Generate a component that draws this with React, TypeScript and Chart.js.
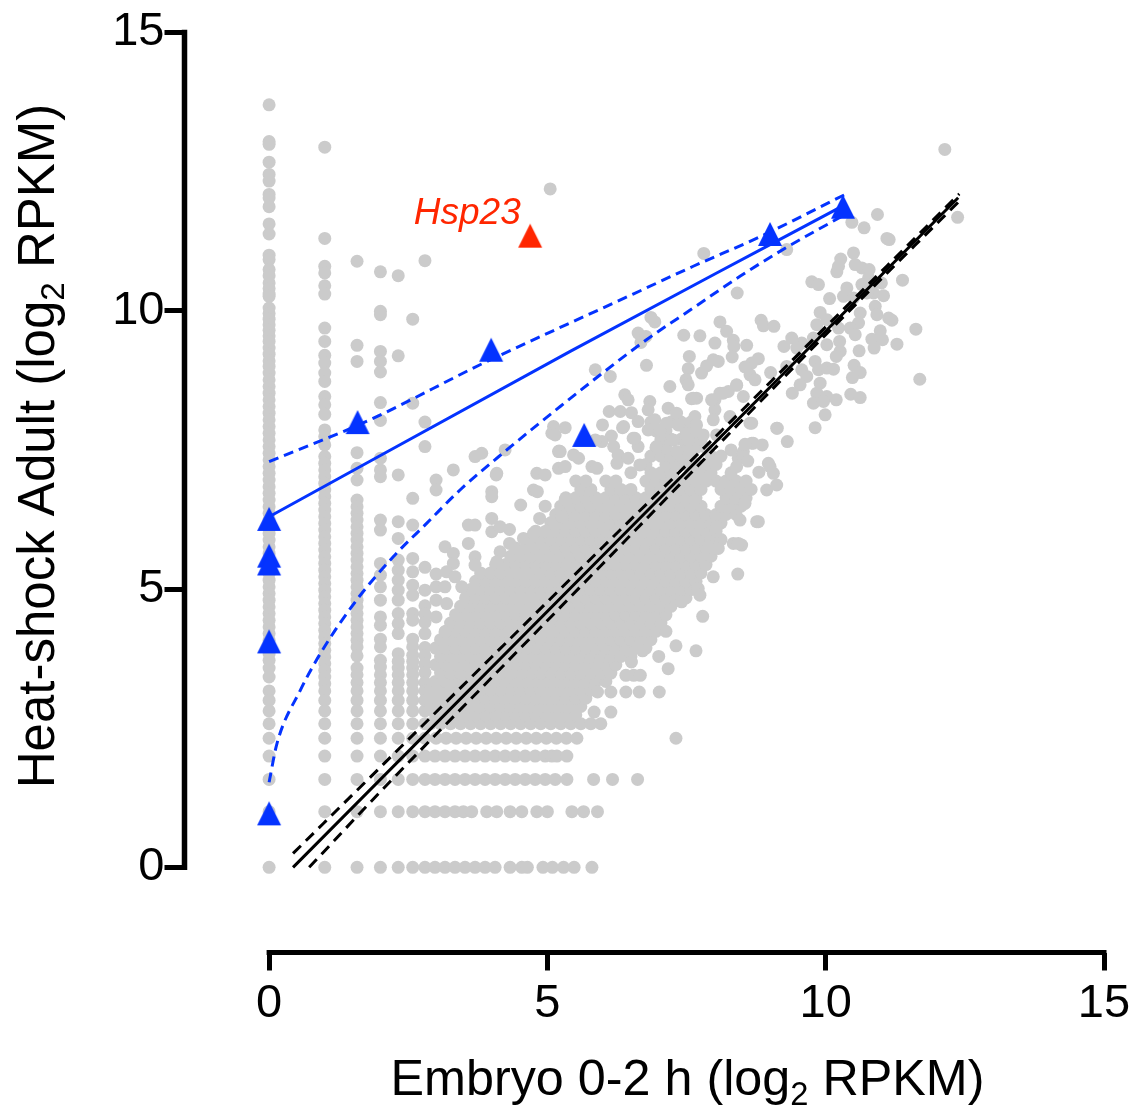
import React, { useEffect, useRef } from "react";
import { Chart, registerables } from "chart.js";

Chart.register(...registerables);

const xTicks = [0, 5, 10, 15];
const yTicks = [0, 5, 10, 15];
const xAxisTitle = ["Embryo 0-2 h (log", "2", " RPKM)"];
const yAxisTitle = ["Heat-shock Adult (log", "2", " RPKM)"];
const geneLabel = "Hsp23";

const col0 = [13.7, 13.04, 12.99, 12.67, 12.45, 12.33, 12.09, 12.03, 11.87, 11.56, 11.38, 11.0, 10.92, 10.74, 10.63, 10.5, 10.4, 10.3, 10.26, 10.05, 9.95, 9.85, 9.75, 9.65, 9.55, 9.45, 9.33, 9.22, 9.1, 9.0, 8.88, 8.76, 8.64, 8.52, 8.4, 8.28, 8.16, 8.04, 7.92, 7.8, 7.68, 7.56, 7.44, 7.32, 7.2, 7.08, 6.96, 6.84, 6.72, 6.6, 6.48, 6.36, 6.24, 6.12, 6.0, 5.88, 5.76, 5.64, 5.52, 5.4, 5.28, 5.16, 5.04, 4.92, 4.8, 4.68, 4.56, 4.44, 4.32, 4.2, 4.08, 3.96, 3.84, 3.72, 3.58, 3.42, 3.17, 3.0, 2.81, 2.58, 2.32, 2.0, 1.58, 1.0, 0];
const col1 = [12.94, 11.3, 10.8, 10.68, 10.45, 10.3, 9.69, 9.45, 9.2, 9.06, 8.88, 8.73, 8.46, 8.31, 8.14, 7.86, 7.74, 7.59, 7.38, 7.26, 7.14, 7.02, 6.9, 6.78, 6.66, 6.54, 6.42, 6.3, 6.18, 6.06, 5.94, 5.82, 5.7, 5.58, 5.46, 5.34, 5.22, 5.1, 4.98, 4.86, 4.74, 4.62, 4.5, 4.38, 4.26, 4.14, 4.02, 3.9, 3.78, 3.66, 3.54, 3.42, 3.3, 3.17, 3.0, 2.81, 2.58, 2.32, 2.0, 1.58, 1.0, 0];
const col158 = [10.89, 9.38, 9.09, 7.45, 7.17, 6.96, 6.6, 6.48, 6.36, 6.24, 6.12, 6.0, 5.88, 5.76, 5.64, 5.52, 5.4, 5.28, 5.16, 5.04, 4.92, 4.8, 4.68, 4.56, 4.44, 4.32, 4.2, 4.08, 3.96, 3.8, 3.58, 3.46, 3.32, 3.17, 3.0, 2.81, 2.58, 2.32, 2.0, 1.58, 1.0, 0];
const col2 = [10.7, 9.99, 9.93, 9.27, 9.09, 8.9, 8.35, 8.03, 7.35, 7.14, 7.02, 6.24, 6.06, 5.46, 5.25, 5.04, 4.8, 4.5, 4.35, 4.1, 3.96, 3.72, 3.6, 3.46, 3.32, 3.17, 3.0, 2.81, 2.58, 2.32, 2.0, 1.58, 1.0, 0];
const col232 = [10.63, 9.19, 7.05, 6.21, 5.91, 5.52, 5.34, 5.16, 4.98, 4.8, 4.56, 4.38, 4.2, 3.84, 3.7, 3.58, 3.46, 3.32, 3.17, 3.0, 2.81, 2.58, 2.32, 2.0, 1.58, 1.0, 0];
const col258 = [9.85, 8.34, 6.63, 6.15, 5.55, 5.31, 5.07, 4.89, 4.56, 4.44, 4.1, 3.96, 3.81, 3.7, 3.58, 3.46, 3.32, 3.17, 3.0, 2.81, 2.58, 2.32, 2.0, 1.58, 1.0, 0];
const col28 = [10.9, 8.0, 7.56, 5.39, 4.98, 4.7, 4.55, 4.4, 4.2, 3.95, 3.8, 3.65, 3.5, 3.32, 3.17, 3.0, 2.81, 2.58, 2.32, 2.0, 1.58, 1.0, 0];

const row0 = [2.98, 3.16, 3.34, 3.52, 3.7, 3.88, 4.06, 4.33, 4.54, 4.64, 4.92, 5.09, 5.29, 5.48, 5.8];
const row1 = [2.98, 3.16, 3.34, 3.49, 3.64, 3.91, 4.09, 4.33, 4.54, 4.81, 5.0, 5.44, 5.65, 5.9];
const row158 = [2.98, 3.16, 3.34, 3.52, 3.7, 3.88, 4.06, 4.24, 4.42, 4.6, 4.78, 4.96, 5.14, 5.35, 5.83, 6.17, 6.62];
const row2 = [2.98, 3.16, 3.34, 3.52, 3.7, 3.88, 4.06, 4.24, 4.42, 4.6, 4.78, 4.96, 5.08, 5.17, 5.35];
const row232 = [3.0, 3.18, 3.36, 3.54, 3.72, 3.9, 4.08, 4.26, 4.44, 4.62, 4.8, 4.98, 5.16, 5.34, 5.53, 7.31];

const blobY = [2.58, 2.74, 2.89, 3.04, 3.19, 3.34, 3.49, 3.64, 3.79, 3.94, 4.09, 4.24, 4.39, 4.54, 4.69, 4.84, 4.99, 5.14, 5.29, 5.44, 5.59, 5.74, 5.89, 6.04, 6.19, 6.34, 6.49, 6.64, 6.79, 6.94, 7.09, 7.24, 7.39, 7.54, 7.69, 7.84, 8.0];
const blobX = [
  [2.9, 3.08, 3.26, 3.44, 3.62, 3.8, 3.98, 4.16, 4.34, 4.52, 4.7, 4.88, 5.06, 5.24, 5.42, 5.6, 5.78, 5.96],
  [2.99, 3.17, 3.35, 3.53, 3.71, 3.89, 4.07, 4.25, 4.43, 4.61, 4.79, 4.97, 5.15, 5.33, 5.51],
  [2.9, 3.08, 3.26, 3.44, 3.62, 3.8, 3.98, 4.16, 4.34, 4.52, 4.7, 4.88, 5.06, 5.24, 5.42, 5.6],
  [2.99, 3.17, 3.35, 3.53, 3.71, 3.89, 4.07, 4.25, 4.43, 4.61, 4.79, 4.97, 5.15, 5.33, 5.51, 5.69],
  [2.9, 3.08, 3.26, 3.44, 3.62, 3.8, 3.98, 4.16, 4.34, 4.52, 4.7, 4.88, 5.06, 5.24, 5.42, 5.6, 5.78],
  [2.99, 3.17, 3.35, 3.53, 3.71, 3.89, 4.07, 4.25, 4.43, 4.61, 4.79, 4.97, 5.15, 5.33, 5.51, 5.69, 5.87, 6.05],
  [3.08, 3.26, 3.44, 3.62, 3.8, 3.98, 4.16, 4.34, 4.52, 4.7, 4.88, 5.06, 5.24, 5.42, 5.6, 5.78, 5.96, 6.14],
  [2.99, 3.17, 3.35, 3.53, 3.71, 3.89, 4.07, 4.25, 4.43, 4.61, 4.79, 4.97, 5.15, 5.33, 5.51, 5.69, 5.87, 6.05, 6.23],
  [3.08, 3.26, 3.44, 3.62, 3.8, 3.98, 4.16, 4.34, 4.52, 4.7, 4.88, 5.06, 5.24, 5.42, 5.6, 5.78, 5.96, 6.14, 6.32, 6.5],
  [2.99, 3.17, 3.35, 3.53, 3.71, 3.89, 4.07, 4.25, 4.43, 4.61, 4.79, 4.97, 5.15, 5.33, 5.51, 5.69, 5.87, 6.05, 6.23, 6.41, 6.59, 6.77],
  [3.08, 3.26, 3.44, 3.62, 3.8, 3.98, 4.16, 4.34, 4.52, 4.7, 4.88, 5.06, 5.24, 5.42, 5.6, 5.78, 5.96, 6.14, 6.32, 6.5, 6.68, 6.86],
  [3.17, 3.35, 3.53, 3.71, 3.89, 4.07, 4.25, 4.43, 4.61, 4.79, 4.97, 5.15, 5.33, 5.51, 5.69, 5.87, 6.05, 6.23, 6.41, 6.59, 6.77, 6.95, 7.13],
  [3.26, 3.44, 3.62, 3.8, 3.98, 4.16, 4.34, 4.52, 4.7, 4.88, 5.06, 5.24, 5.42, 5.6, 5.78, 5.96, 6.14, 6.32, 6.5, 6.68, 6.86, 7.04],
  [3.35, 3.53, 3.71, 3.89, 4.07, 4.25, 4.43, 4.61, 4.79, 4.97, 5.15, 5.33, 5.51, 5.69, 5.87, 6.05, 6.23, 6.41, 6.59, 6.77, 6.95, 7.13],
  [3.44, 3.62, 3.8, 3.98, 4.16, 4.34, 4.52, 4.7, 4.88, 5.06, 5.24, 5.42, 5.6, 5.78, 5.96, 6.14, 6.32, 6.5, 6.68, 6.86, 7.04, 7.22],
  [3.53, 3.71, 3.89, 4.07, 4.25, 4.43, 4.61, 4.79, 4.97, 5.15, 5.33, 5.51, 5.69, 5.87, 6.05, 6.23, 6.41, 6.59, 6.77, 6.95, 7.13, 7.31, 7.49],
  [3.62, 3.8, 3.98, 4.16, 4.34, 4.52, 4.7, 4.88, 5.06, 5.24, 5.42, 5.6, 5.78, 5.96, 6.14, 6.32, 6.5, 6.68, 6.86, 7.04, 7.22, 7.4, 7.58],
  [3.71, 3.89, 4.07, 4.25, 4.43, 4.61, 4.79, 4.97, 5.15, 5.33, 5.51, 5.69, 5.87, 6.05, 6.23, 6.41, 6.59, 6.77, 6.95, 7.13, 7.31, 7.49, 7.67],
  [3.8, 3.98, 4.16, 4.34, 4.52, 4.7, 4.88, 5.06, 5.24, 5.42, 5.6, 5.78, 5.96, 6.14, 6.32, 6.5, 6.68, 6.86, 7.04, 7.22, 7.4, 7.58, 7.76],
  [4.07, 4.25, 4.43, 4.61, 4.79, 4.97, 5.15, 5.33, 5.51, 5.69, 5.87, 6.05, 6.23, 6.41, 6.59, 6.77, 6.95, 7.13, 7.31, 7.49, 7.67, 7.85],
  [4.34, 4.52, 4.7, 4.88, 5.06, 5.24, 5.42, 5.6, 5.78, 5.96, 6.14, 6.32, 6.5, 6.68, 6.86, 7.04, 7.22, 7.4, 7.58, 7.76, 7.94],
  [4.43, 4.61, 4.79, 4.97, 5.15, 5.33, 5.51, 5.69, 5.87, 6.05, 6.23, 6.41, 6.59, 6.77, 6.95, 7.13, 7.31, 7.49, 7.67, 7.85, 8.03],
  [4.7, 4.88, 5.06, 5.24, 5.42, 5.6, 5.78, 5.96, 6.14, 6.32, 6.5, 6.68, 6.86, 7.04, 7.22, 7.4, 7.58, 7.76, 7.94, 8.12],
  [4.79, 4.97, 5.15, 5.33, 5.51, 5.69, 5.87, 6.05, 6.23, 6.41, 6.59, 6.77, 6.95, 7.13, 7.31, 7.49, 7.67, 7.85, 8.03],
  [5.06, 5.24, 5.42, 5.6, 5.78, 5.96, 6.14, 6.32, 6.5, 6.68, 6.86, 7.04, 7.22, 7.4, 7.58, 7.76, 7.94, 8.12],
  [5.15, 5.33, 5.51, 5.69, 5.87, 6.05, 6.23, 6.41, 6.59, 6.77, 6.95, 7.13, 7.31, 7.49, 7.67, 7.85, 8.03, 8.21, 8.39],
  [5.24, 5.42, 5.6, 5.78, 5.96, 6.14, 6.32, 6.5, 6.68, 6.86, 7.04, 7.22, 7.4, 7.58, 7.76, 8.12, 8.3, 8.48],
  [5.33, 5.51, 5.69, 5.87, 6.05, 6.23, 6.41, 6.59, 6.77, 6.95, 7.13, 7.31, 7.49, 7.67, 8.21, 8.39, 8.57],
  [5.6, 5.78, 6.14, 6.32, 6.5, 6.86, 7.04, 7.22, 7.4, 7.58, 7.76, 8.12, 8.3, 8.48, 8.66],
  [5.51, 5.69, 6.05, 6.23, 6.77, 6.95, 7.13, 7.31, 7.49, 7.67, 7.85, 8.03, 8.21, 8.39, 8.57],
  [6.5, 6.86, 7.04, 7.22, 7.58, 7.76, 7.94, 8.3],
  [6.77, 7.13, 7.31, 7.49, 7.67, 7.85, 8.03],
  [6.86, 7.04, 7.22, 7.4, 7.58, 7.94, 8.12],
  [6.95, 7.13, 7.49, 7.67, 7.85],
  [7.04, 7.22, 7.4, 7.58, 7.76],
  [6.95, 7.13, 7.49, 7.67],
  [6.86, 7.22, 7.4, 7.58],
];

const scatterPoints: [number, number][] = [
  [12.14, 12.9], [12.37, 11.68], [10.93, 11.73], [10.47, 11.59], [10.69, 11.49], [11.14, 11.28], [11.1, 11.3], [9.3, 11.1], [7.81, 11.03], [10.5, 11.04], [10.27, 10.93], [10.2, 10.7], [10.23, 10.8], [10.53, 10.83], [10.65, 10.77], [10.78, 10.74], [10.77, 10.59], [11.38, 10.55], [9.75, 10.52], [9.87, 10.47], [8.41, 10.32], [10.38, 10.41], [10.32, 10.26], [10.5, 10.23], [10.65, 10.47], [10.83, 10.47], [11.0, 10.5], [10.07, 10.22], [10.86, 10.32], [11.04, 10.27], [10.74, 10.32], [10.89, 10.08], [10.92, 9.93], [9.9, 9.97], [10.02, 9.84], [9.84, 9.75], [10.62, 9.96], [10.59, 9.78], [10.44, 9.69], [10.53, 9.57], [10.23, 9.69], [11.13, 9.87], [11.19, 9.83], [11.62, 9.67], [10.98, 9.64], [10.83, 9.49], [11.02, 9.48], [10.87, 9.33], [11.28, 9.4],
  [6.86, 9.88], [6.93, 9.8], [6.63, 9.6], [6.77, 9.54], [6.68, 9.43], [8.1, 9.8], [8.22, 9.63], [8.84, 9.83], [8.88, 9.73], [9.07, 9.72], [7.45, 9.56], [7.74, 9.55], [8.01, 9.42], [8.34, 9.47], [8.35, 9.36], [8.58, 9.38], [9.39, 9.51], [9.25, 9.36], [9.57, 9.42], [9.48, 9.33], [9.78, 9.51], [10.02, 9.39], [10.25, 9.45], [10.26, 9.27], [10.19, 9.18], [10.6, 9.28], [7.55, 9.18], [8.32, 9.17], [6.78, 9.02], [7.98, 9.12], [8.07, 9.09], [7.86, 9.01], [7.77, 8.88], [7.53, 8.96], [7.49, 8.76], [7.53, 8.67], [8.79, 9.14], [8.67, 9.06], [8.55, 8.99], [8.64, 8.85], [8.73, 8.76], [9.01, 8.89], [9.3, 9.0], [9.57, 8.94], [9.81, 9.09], [9.87, 8.94], [10.02, 8.97], [10.14, 8.95], [9.66, 8.82], [9.54, 8.67], [9.9, 8.7], [10.51, 9.02], [10.62, 8.89], [10.48, 8.8], [11.69, 8.77], [5.86, 8.94], [6.13, 8.82], [7.2, 8.64],
  [8.4, 8.66], [8.25, 8.55], [8.1, 8.52], [8.01, 8.4], [7.68, 8.43], [7.59, 8.42], [8.52, 8.46], [9.4, 8.52], [9.84, 8.52], [10.02, 8.46], [9.78, 8.34], [9.96, 8.37], [10.19, 8.4], [10.45, 8.5], [10.62, 8.44], [9.99, 8.13], [9.81, 7.9], [6.39, 8.49], [6.45, 8.4], [6.84, 8.37], [6.81, 8.22], [6.11, 8.19], [6.31, 8.19], [6.51, 8.17], [7.17, 8.25], [7.32, 8.16], [7.35, 7.95], [7.65, 8.1], [7.68, 7.95], [8.01, 8.22], [7.98, 8.04], [8.28, 8.1], [5.99, 7.95], [6.35, 7.9], [6.63, 8.01], [6.93, 8.04], [7.14, 7.98], [6.81, 7.86], [7.02, 7.86], [8.67, 7.98], [9.13, 7.89], [9.31, 7.65], [5.32, 7.9], [6.15, 7.75], [5.98, 7.65], [6.54, 7.71], [6.63, 7.56], [6.19, 7.56], [7.26, 7.68], [7.53, 7.68], [7.8, 7.77], [8.04, 7.77], [8.67, 7.62], [8.86, 7.59], [8.52, 7.47], [8.43, 7.35], [8.97, 7.26], [6.96, 7.56], [7.32, 7.47], [5.47, 7.41], [5.56, 7.35], [6.27, 7.41], [6.45, 7.35], [6.25, 7.26], [5.8, 7.2], [6.66, 7.23], [5.23, 7.47],
  [4.24, 7.5], [3.7, 7.38], [3.82, 7.44], [3.31, 7.14], [5.11, 7.92], [5.08, 7.8], [5.2, 7.47], [5.2, 7.17], [5.32, 7.2], [4.81, 7.08], [4.96, 7.05], [4.09, 7.08], [5.05, 12.19],
  [3.0, 6.96], [3.0, 6.78], [4.08, 7.05], [4.0, 6.75], [4.0, 6.66], [4.75, 6.78], [4.82, 6.75], [4.52, 6.51], [4.96, 6.49], [5.32, 6.61], [3.58, 6.15], [3.7, 6.15], [4.0, 6.27], [4.0, 6.03], [4.15, 6.12], [4.32, 6.07], [3.58, 5.82], [3.16, 5.76], [4.32, 5.82], [4.57, 5.91], [4.75, 6.0], [4.86, 6.27], [5.11, 6.21], [5.26, 6.3], [4.15, 5.67], [3.31, 5.64], [3.31, 5.46], [3.7, 5.58], [3.7, 5.43], [4.09, 5.49], [3.0, 5.27], [3.19, 5.31], [3.34, 5.22], [3.46, 5.04], [3.0, 5.04], [3.16, 5.04], [3.0, 4.8], [3.19, 4.74], [3.0, 4.5], [3.16, 4.23],
  [8.42, 5.27], [7.79, 4.51], [7.31, 3.98], [7.67, 3.89], [7.0, 3.79], [6.71, 3.89], [7.17, 3.57], [6.51, 3.69], [6.41, 3.45], [6.55, 3.45], [6.67, 3.45], [5.9, 3.15], [6.14, 3.15], [6.41, 3.15], [6.65, 3.15], [7.01, 3.15], [5.84, 2.79], [6.14, 2.79], [8.76, 6.21], [7.98, 5.22], [7.71, 5.01], [7.74, 4.89], [7.41, 4.77], [7.92, 5.76], [8.07, 5.73], [8.34, 5.82], [8.49, 5.79], [8.04, 6.12], [8.55, 6.54], [8.46, 6.24],
  [8.94, 6.78], [9.12, 6.87], [8.79, 6.21], [8.43, 5.82], [9.0, 7.2], [9.06, 7.08], [9.12, 7.89], [8.64, 7.98], [7.95, 8.4], [8.16, 8.52], [8.4, 8.67], [7.62, 8.43], [8.7, 7.62], [8.52, 7.38], [5.14, 7.77], [5.21, 7.48], [6.37, 7.92], [5.86, 7.68], [6.57, 7.71], [5.89, 7.17],
  [8.3, 7.5], [8.55, 7.6], [8.4, 7.2], [8.6, 7.3], [8.8, 7.1],
];

const blueMarkers = [
  { x: 0, y: 6.26 }, { x: 0, y: 5.6 }, { x: 0, y: 5.46 }, { x: 0, y: 4.06 }, { x: 0, y: 0.97 },
  { x: 1.59, y: 8.0 }, { x: 3.99, y: 9.3 }, { x: 5.66, y: 7.77 }, { x: 9.0, y: 11.38 }, { x: 10.31, y: 11.87 },
];
const redMarker = [{ x: 4.69, y: 11.35 }];

const blueFit = [{ x: 0, y: 6.3 }, { x: 5.41, y: 9.27 }, { x: 9.06, y: 11.22 }, { x: 10.3, y: 11.88 }];
const blueUpper = [{ x: 0, y: 7.29 }, { x: 1.81, y: 8.04 }, { x: 3.79, y: 9.03 }, { x: 5.23, y: 9.7 }, { x: 6.54, y: 10.3 }, { x: 7.62, y: 10.8 }, { x: 8.82, y: 11.33 }, { x: 10.33, y: 12.08 }];
const blueLower = [{ x: 0, y: 1.53 }, { x: 0.14, y: 2.22 }, { x: 0.56, y: 3.18 }, { x: 0.92, y: 3.84 }, { x: 1.57, y: 4.8 }, { x: 2.23, y: 5.58 }, { x: 2.83, y: 6.18 }, { x: 3.43, y: 6.78 }, { x: 4.27, y: 7.5 }, { x: 5.23, y: 8.28 }, { x: 5.95, y: 8.85 }, { x: 6.78, y: 9.48 }, { x: 7.62, y: 10.05 }, { x: 8.46, y: 10.62 }, { x: 9.3, y: 11.14 }, { x: 10.33, y: 11.72 }];

const blackFit = [{ x: 0.43, y: 0 }, { x: 12.38, y: 12.03 }];
const blackUpper = [{ x: 0.43, y: 0.25 }, { x: 2, y: 1.8 }, { x: 4, y: 3.78 }, { x: 6, y: 5.76 }, { x: 8, y: 7.72 }, { x: 10, y: 9.71 }, { x: 12.4, y: 12.1 }];
const blackLower = [{ x: 0.72, y: 0 }, { x: 2, y: 1.36 }, { x: 4, y: 3.41 }, { x: 6, y: 5.46 }, { x: 8, y: 7.52 }, { x: 10, y: 9.57 }, { x: 12.4, y: 11.97 }];

const GRAY = "#cbcbcb";
const BLUE = "#0433ff";
const RED = "#ff2600";
const FONT = "'Liberation Sans', Arial, sans-serif";

function grayPoints() {
  const pts: { x: number; y: number }[] = [];
  const addCol = (x: number, ys: number[]) => ys.forEach((y) => pts.push({ x, y }));
  const addRow = (y: number, xs: number[]) => xs.forEach((x) => pts.push({ x, y }));
  addCol(0, col0);
  addCol(1, col1);
  addCol(1.58, col158);
  addCol(2, col2);
  addCol(2.32, col232);
  addCol(2.58, col258);
  addCol(2.8, col28);
  addRow(0, row0);
  addRow(1, row1);
  addRow(1.58, row158);
  addRow(2, row2);
  addRow(2.32, row232);
  blobY.forEach((y, i) => addRow(y, blobX[i]));
  scatterPoints.forEach(([x, y]) => pts.push({ x, y }));
  return pts;
}

function triangle(color: string) {
  const c = document.createElement("canvas");
  c.width = 26;
  c.height = 26;
  const g = c.getContext("2d")!;
  g.fillStyle = color;
  g.beginPath();
  g.moveTo(13, 1);
  g.lineTo(25, 25);
  g.lineTo(1, 25);
  g.closePath();
  g.fill();
  return c;
}

function drawMixed(ctx: CanvasRenderingContext2D, parts: string[], size: number) {
  const subSize = size * 0.65;
  ctx.textAlign = "left";
  ctx.textBaseline = "alphabetic";
  ctx.font = `${size}px ${FONT}`;
  const a = ctx.measureText(parts[0]).width;
  const c = ctx.measureText(parts[2]).width;
  ctx.font = `${subSize}px ${FONT}`;
  const b = ctx.measureText(parts[1]).width;
  let x = -(a + b + c) / 2;
  ctx.font = `${size}px ${FONT}`;
  ctx.fillText(parts[0], x, 0);
  x += a;
  ctx.font = `${subSize}px ${FONT}`;
  ctx.fillText(parts[1], x, size * 0.2);
  x += b;
  ctx.font = `${size}px ${FONT}`;
  ctx.fillText(parts[2], x, 0);
}

const decorations = {
  id: "decorations",
  beforeDatasetsDraw(chart: any) {
    const { ctx, scales } = chart;
    const { x, y } = scales;
    ctx.save();
    ctx.strokeStyle = "#000";
    ctx.lineCap = "square";
    ctx.lineWidth = 5;
    ctx.beginPath();
    ctx.moveTo(x.getPixelForValue(0), x.top);
    ctx.lineTo(x.getPixelForValue(15), x.top);
    ctx.stroke();
    ctx.lineWidth = 5.5;
    ctx.beginPath();
    ctx.moveTo(y.right, y.getPixelForValue(0));
    ctx.lineTo(y.right, y.getPixelForValue(15));
    ctx.stroke();
    ctx.restore();
  },
  afterDraw(chart: any) {
    const { ctx, scales } = chart;
    ctx.save();
    ctx.fillStyle = "#000";
    ctx.translate(687.5, 1095);
    drawMixed(ctx, xAxisTitle, 50.3);
    ctx.restore();
    ctx.save();
    ctx.fillStyle = "#000";
    ctx.translate(54, 446);
    ctx.rotate(-Math.PI / 2);
    drawMixed(ctx, yAxisTitle, 51);
    ctx.restore();
    ctx.save();
    ctx.fillStyle = RED;
    ctx.font = `italic 37px ${FONT}`;
    ctx.textAlign = "left";
    ctx.textBaseline = "alphabetic";
    ctx.fillText(geneLabel, scales.x.getPixelForValue(2.6), scales.y.getPixelForValue(11.56));
    ctx.restore();
  },
};

export default function App() {
  const ref = useRef<HTMLCanvasElement>(null);
  useEffect(() => {
    const line = (data: any[], color: string, dash: number[] = []) => ({
      type: "line" as const,
      data,
      borderColor: color,
      borderWidth: 3,
      borderDash: dash,
      pointRadius: 0,
      fill: false,
      cubicInterpolationMode: "monotone" as const,
    });
    const chart = new Chart(ref.current!, {
      type: "scatter",
      data: {
        datasets: [
          { data: redMarker, pointStyle: triangle(RED), pointRadius: 13, showLine: false },
          { data: blueMarkers, pointStyle: triangle(BLUE), pointRadius: 13, showLine: false },
          line(blueFit, BLUE),
          line(blueUpper, BLUE, [10, 6]),
          line(blueLower, BLUE, [10, 6]),
          line(blackFit, "#000"),
          line(blackUpper, "#000", [11, 7]),
          line(blackLower, "#000", [11, 7]),
          { data: grayPoints(), backgroundColor: GRAY, borderWidth: 0, pointRadius: 6.5, showLine: false },
        ] as any,
      },
      options: {
        animation: false,
        responsive: false,
        events: [],
        layout: { padding: { top: 32.5, right: 29, left: 0, bottom: 0 } },
        plugins: { legend: { display: false }, tooltip: { enabled: false } },
        scales: {
          x: {
            type: "linear",
            min: -1.52,
            max: 15,
            afterBuildTicks: (s: any) => { s.ticks = xTicks.map((value) => ({ value })); },
            afterFit: (s: any) => { s.height = 1115 - 952.5; s.paddingRight = 0; s.paddingLeft = 0; },
            border: { display: false },
            grid: { drawOnChartArea: false, drawTicks: true, tickLength: 18, tickWidth: 5, tickColor: "#000" },
            ticks: { color: "#000", font: { family: FONT, size: 47 }, padding: 5, maxRotation: 0, autoSkip: false },
          },
          y: {
            type: "linear",
            min: -1.53,
            max: 15,
            afterBuildTicks: (s: any) => { s.ticks = yTicks.map((value) => ({ value })); },
            afterFit: (s: any) => { s.width = 184.5; },
            border: { display: false },
            grid: { drawOnChartArea: false, drawTicks: true, tickLength: 20, tickWidth: 5, tickColor: "#000" },
            ticks: { color: "#000", font: { family: FONT, size: 47 }, padding: 0, autoSkip: false },
          },
        },
      },
      plugins: [decorations],
    } as any);
    return () => chart.destroy();
  }, []);
  return (
    <canvas
      ref={ref}
      width={1133}
      height={1115}
      style={{ position: "absolute", left: 0, top: 0, display: "block" }}
    />
  );
}
